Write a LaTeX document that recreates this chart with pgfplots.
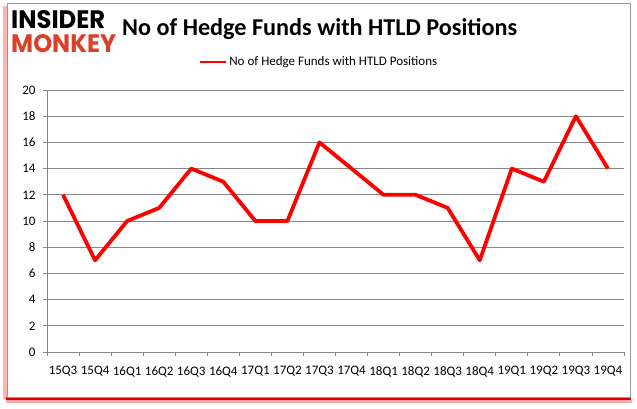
\documentclass[border=0pt]{standalone}
\usepackage{fontspec}
\setmainfont{Carlito}
\newfontfamily\logofont{Poppins}
\usepackage{graphicx}
\usepackage{pgfplots}
\pgfplotsset{compat=1.18}
\definecolor{gridgray}{HTML}{868686}
\definecolor{monkey}{HTML}{D9412B}
\definecolor{linered}{HTML}{FF0000}
\begin{document}
\begin{tikzpicture}[x=1pt,y=-1pt]
\useasboundingbox (0,0) rectangle (637,408);
% frame with red shadow
\fill[red!50, opacity=0.6] (3,6) rectangle (7,399);
\fill[red!85!black] (6,397) rectangle (631,400);
\fill[red, opacity=0.35] (6,400) rectangle (632,403);
\fill[white] (7,3) rectangle (630,397);
\draw[gray!80, line width=0.8pt] (7,3) rectangle (630,397);
% logo
\node[anchor=north west, inner sep=0] at (11,10) {\resizebox{94pt}{18pt}{\logofont\bfseries INSIDER}};
\node[anchor=north west, inner sep=0] at (11,34) {\resizebox{105pt}{18pt}{\color{monkey}\logofont\bfseries MONKEY}};
% title
\node[anchor=west, inner sep=0] at (122,29) {\fontsize{24.2}{28}\selectfont\bfseries No of Hedge Funds with HTLD Positions};
\begin{axis}[
  at={(47pt,-352pt)}, anchor=south west,
  scale only axis, width=577pt, height=262pt,
  xmin=-0.5, xmax=17.5, ymin=0, ymax=20,
  axis x line*=bottom, axis y line*=left,
  axis line style={gridgray, line width=0.8pt},
  xtick={0,...,17},
  xticklabels={15Q3,15Q4,16Q1,16Q2,16Q3,16Q4,17Q1,17Q2,17Q3,17Q4,18Q1,18Q2,18Q3,18Q4,19Q1,19Q2,19Q3,19Q4},
  major x tick style={draw=none},
  minor xtick={-0.5,0.5,...,17.5},
  minor tick style={gridgray, line width=0.8pt},
  ytick={0,2,...,20},
  major y tick style={gridgray, line width=0.8pt},
  tick align=outside, major tick length=4pt, minor tick length=4pt,
  ymajorgrids, grid style={gridgray, line width=0.8pt},
  tick label style={font=\fontsize{13}{15}\selectfont},
  /pgf/number format/assume math mode=true,
  xticklabel style={yshift=-7pt},
  yticklabel style={xshift=-4pt},
  legend style={at={(0.263,1.107)}, anchor=west, draw=none, fill=none, inner sep=0pt,
    font=\fontsize{13}{15}\selectfont},
  legend image code/.code={\draw[linered, line width=2.4pt] (0pt,0pt) -- (26pt,0pt);},
]
\addplot[linered, line width=3.8pt, line join=round] coordinates {
(0,12) (1,7) (2,10) (3,11) (4,14) (5,13) (6,10) (7,10) (8,16) (9,14)
(10,12) (11,12) (12,11) (13,7) (14,14) (15,13) (16,18) (17,14)};
\addlegendentry{No of Hedge Funds with HTLD Positions}
\end{axis}
\end{tikzpicture}
\end{document}
